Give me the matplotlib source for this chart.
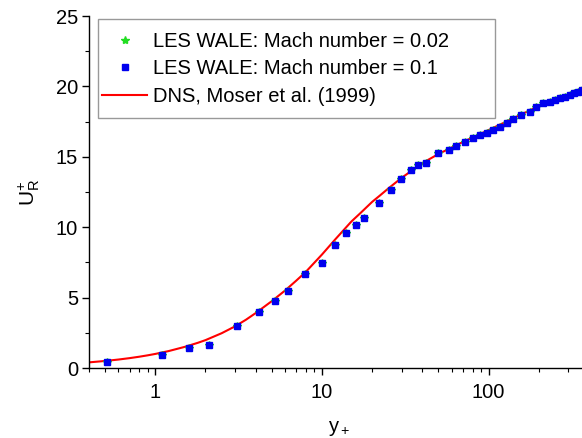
import matplotlib
matplotlib.use("Agg")
import matplotlib.pyplot as plt
from matplotlib.patches import Rectangle
from matplotlib.ticker import LogLocator, FixedLocator, NullFormatter

plt.rcParams['font.family'] = ['Liberation Sans', 'DejaVu Sans']
plt.rcParams['mathtext.fontset'] = 'custom'
plt.rcParams['mathtext.rm'] = 'Liberation Sans'
plt.rcParams['mathtext.it'] = 'Liberation Sans'

# LES WALE data (y+, U+)
les_yplus = [0.513, 1.10, 1.60, 2.11, 3.11, 4.21, 5.19, 6.24, 7.95, 9.99, 11.95, 13.97,
             16.07, 17.96, 22.0, 26.0, 29.6, 34.0, 37.9, 42.0, 49.9, 57.5, 64.0, 71.7,
             80.5, 88.3, 97.4, 106.4, 116.7, 128, 140, 157, 176, 193, 211, 232, 250,
             267, 287, 307, 325, 343, 365, 385]
les_u = [0.40, 0.90, 1.40, 1.63, 2.98, 3.95, 4.76, 5.45, 6.70, 7.46, 8.71, 9.56,
         10.18, 10.67, 11.70, 12.62, 13.41, 14.06, 14.42, 14.54, 15.25, 15.48, 15.79, 16.07,
         16.31, 16.52, 16.71, 16.93, 17.14, 17.38, 17.66, 17.97, 18.20, 18.56, 18.80, 18.91, 19.03,
         19.15, 19.27, 19.39, 19.50, 19.62, 19.72, 19.82]

# DNS Moser et al. (1999)
dns_yplus = [0.4, 0.5, 0.6, 0.7, 0.8, 0.9, 1.0, 1.2, 1.5, 1.8, 2.0, 2.5, 3.0, 3.5, 4.0, 5.0,
             6.0, 7.0, 8.0, 10.0, 12.0, 15.0, 17.0, 20.0, 22.0, 25.0, 30.0, 40.0, 50.0,
             70.0, 100.0, 150.0, 200.0, 300.0, 400.0]
dns_u = [0.40, 0.50, 0.60, 0.70, 0.80, 0.90, 1.00, 1.20, 1.50, 1.79, 1.98, 2.47, 2.95, 3.43,
         3.90, 4.75, 5.50, 6.20, 6.83, 8.06, 9.13, 10.40, 11.00, 11.80, 12.20, 12.75, 13.50,
         14.55, 15.20, 16.05, 16.90, 17.90, 18.60, 19.40, 19.95]

yticks = [0, 5, 10, 15, 20, 25]
xticks = [1, 10, 100]
xticklabels = ['1', '10', '100']

fig = plt.figure(figsize=(5.82, 4.38), dpi=100)
ax = fig.add_axes([89/582, 70/438, 500/582, 352/438])

ax.plot(dns_yplus, dns_u, color='red', lw=1.5, label='DNS, Moser et al. (1999)', zorder=2)
ax.plot(les_yplus, les_u, ls='none', marker='*', color='#22dd22', ms=6,
        label='LES WALE: Mach number = 0.02', zorder=3)
ax.plot(les_yplus, les_u, ls='none', marker='s', color='#0000ee', ms=5,
        label='LES WALE: Mach number = 0.1', zorder=4)

ax.set_xscale('log')
ax.set_xlim(0.4, 400)
ax.set_ylim(0, 25)
ax.set_yticks(yticks)
ax.yaxis.set_minor_locator(FixedLocator([2.5, 7.5, 12.5, 17.5, 22.5]))
ax.set_xticks(xticks)
ax.set_xticklabels(xticklabels)
ax.xaxis.set_minor_locator(LogLocator(base=10, subs=range(2, 10)))
ax.xaxis.set_minor_formatter(NullFormatter())

for s in ['top', 'right']:
    ax.spines[s].set_visible(False)
for s in ['left', 'bottom']:
    ax.spines[s].set_linewidth(1.0)
ax.tick_params(which='major', direction='out', length=5, width=1, labelsize=14.5)
ax.tick_params(axis='y', which='major', pad=3)
ax.tick_params(axis='x', which='major', pad=6)
ax.tick_params(which='minor', direction='out', length=3, width=0.8)

ax.set_xlabel(r'y$_+$', fontsize=14.5, labelpad=12)
ax.set_ylabel(r'U$_\mathrm{R}^{+}$', fontsize=15, labelpad=10)

h, l = ax.get_legend_handles_labels()
order = [1, 2, 0]
leg = ax.legend([h[i] for i in order], [l[i] for i in order], loc='upper left',
                bbox_to_anchor=(13/500, 1 - 16/352), borderaxespad=0, frameon=False,
                fontsize=14.5, handlelength=2.25, handletextpad=0.3, labelspacing=0.42,
                numpoints=1, borderpad=0)
leg.set_zorder(6)
rect = Rectangle((98/582, (438-118)/438), (495-98)/582, (118-19)/438,
                 transform=fig.transFigure, fill=True, facecolor='white',
                 edgecolor='#999999', lw=1.0, zorder=5, clip_on=False)
ax.add_patch(rect)
fig.savefig('out.png', dpi=100)
